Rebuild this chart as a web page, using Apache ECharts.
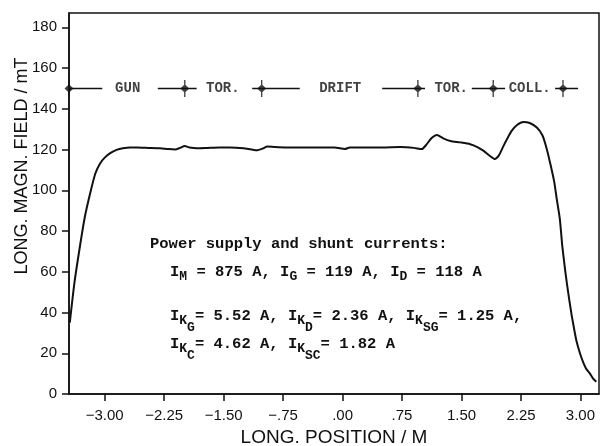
<!DOCTYPE html>
<html>
<head>
<meta charset="utf-8">
<script src="https://cdn.jsdelivr.net/npm/echarts@6/dist/echarts.min.js"></script>
<style>
  html, body { margin: 0; padding: 0; background: #fff; }
  #chart { width: 600px; height: 446px; }
</style>
</head>
<body>
<div id="chart"></div>
<script>
// field profile along the beam axis
const posM = [-3.44, -3.38, -3.31, -3.25, -3.18, -3.12, -3.06, -3.00, -2.93, -2.85,
  -2.77, -2.68, -2.59, -2.45, -2.30, -2.20, -2.11, -2.05, -1.99, -1.93,
  -1.84, -1.70, -1.55, -1.42, -1.25, -1.08, -1.00, -0.95, -0.85, -0.70,
  -0.50, -0.30, -0.10, 0.03, 0.09, 0.30, 0.50, 0.73, 0.90, 1.00,
  1.06, 1.12, 1.19, 1.27, 1.36, 1.48, 1.61, 1.70, 1.78, 1.86,
  1.92, 1.97, 2.03, 2.08, 2.13, 2.20, 2.28, 2.36, 2.45, 2.52,
  2.57, 2.62, 2.67, 2.70, 2.74, 2.77, 2.80, 2.83, 2.86, 2.89,
  2.92, 2.95, 2.99, 3.03, 3.07, 3.12, 3.16, 3.20];
const fieldMT = [35, 55, 73, 87, 99, 108, 113, 116, 118.2, 119.8,
  120.6, 121, 121, 120.8, 120.6, 120.2, 120, 120.8, 121.7, 121,
  120.6, 120.8, 121, 121, 120.6, 119.6, 120.6, 121.5, 121.2, 121,
  121, 121, 121, 120.2, 121, 121, 121, 121.2, 120.8, 120.2,
  122.5, 125.5, 127.1, 125.5, 124.2, 123.5, 122.6, 121.2, 119.3, 116.8,
  115.3, 117, 121.8, 125.5, 129, 132, 133.5, 133, 130.8, 127,
  121, 113, 104, 96, 86, 73, 63, 54, 46, 38.5,
  32, 26, 20.5, 16, 12.5, 10, 7.5, 6];

const xTickValues = [-3, -2.25, -1.5, -0.75, 0, 0.75, 1.5, 2.25, 3];
const xTickLabels = ['\u22123.00', '\u22122.25', '\u22121.50', '\u2212.75', '.00', '.75', '1.50', '2.25', '3.00'];
const yTickValues = [0, 20, 40, 60, 80, 100, 120, 140, 160, 180];

// section bar drawn at 150 mT
const sectionLevel = 150;
const sectionMarks = [-3.45, -1.99, -1.02, 0.95, 1.90, 2.78];
const sectionLineFrom = [-3.45, -2.33, -1.14, 0.50, 1.63, 2.68];
const sectionLineTo = [-3.03, -1.84, -0.54, 1.04, 2.05, 2.97];
const sectionNames = ['GUN', 'TOR.', 'DRIFT', 'TOR.', 'COLL.'];
const sectionNamePos = [-2.71, -1.51, -0.03, 1.37, 2.36];

const noteTitle = 'Power supply and shunt currents:';
// [text, level] level 0 = normal, 1 = subscript, 2 = second subscript
const noteLines = [
  [['I', 0], ['M', 1], [' = 875 A, I', 0], ['G', 1], [' = 119 A, I', 0], ['D', 1], [' = 118 A', 0]],
  [['I', 0], ['K', 1], ['G', 2], ['= 5.52 A, I', 0], ['K', 1], ['D', 2], ['= 2.36 A, I', 0], ['K', 1], ['SG', 2], ['= 1.25 A,', 0]],
  [['I', 0], ['K', 1], ['C', 2], ['= 4.62 A, I', 0], ['K', 1], ['SC', 2], ['= 1.82 A', 0]]
];

const MONO = '"Liberation Mono", "DejaVu Sans Mono", monospace';
const SANS = '"Liberation Sans", Arial, sans-serif';

const curve = posM.map((x, i) => [x, fieldMT[i]]);
const barData = [];
sectionLineFrom.forEach((x, i) => {
  barData.push([x, sectionLevel], [sectionLineTo[i], sectionLevel], '-');
});

// text block with sub/subsub scripts, monospace so widths are easy
const fontMain = 15.5, fontSub = 13;
const levelDy = [0, 5, 12];
const noteGraphic = [{
  type: 'text', x: 150, y: 244,
  style: { text: noteTitle, font: 'bold ' + fontMain + 'px ' + MONO, fill: '#111', verticalAlign: 'middle' }
}];
const lineY = [272, 316, 344];
noteLines.forEach((parts, li) => {
  let x = 170;
  parts.forEach(([t, lv]) => {
    const fs = lv === 0 ? fontMain : fontSub;
    noteGraphic.push({
      type: 'text', x: x, y: lineY[li] + levelDy[lv],
      style: { text: t, font: 'bold ' + fs + 'px ' + MONO, fill: '#111', verticalAlign: 'middle' }
    });
    x += t.length * fs * 0.6;
  });
});

const chart = echarts.init(document.getElementById('chart'));
chart.setOption({
  animation: false,
  grid: {
    left: 69, right: 1, top: 13, bottom: 52,
    outerBoundsMode: 'none',
    show: true, borderColor: '#111', borderWidth: 1.5
  },
  xAxis: {
    type: 'value',
    min: -3.45, max: 3.234,
    name: 'LONG. POSITION / M',
    nameLocation: 'middle',
    nameGap: 31,
    nameTextStyle: { fontFamily: SANS, fontSize: 19, color: '#111' },
    axisLine: { onZero: false, lineStyle: { color: '#111', width: 1.5 } },
    axisTick: { customValues: xTickValues, length: 7, lineStyle: { color: '#111', width: 1.5 } },
    axisLabel: {
      customValues: xTickValues,
      margin: 14,
      fontFamily: SANS, fontSize: 15, color: '#111',
      formatter: v => {
        const i = xTickValues.findIndex(t => Math.abs(t - v) < 1e-6);
        return i >= 0 ? xTickLabels[i] : '';
      }
    },
    splitLine: { show: false }
  },
  yAxis: {
    type: 'value',
    min: 0, max: 187,
    axisLine: { onZero: false, lineStyle: { color: '#111', width: 1.5 } },
    axisTick: { customValues: yTickValues, length: 7, lineStyle: { color: '#111', width: 1.5 } },
    axisLabel: { customValues: yTickValues, margin: 12, fontFamily: SANS, fontSize: 15, color: '#111' },
    splitLine: { show: false }
  },
  graphic: [{
    type: 'text', x: 22, y: 166, rotation: Math.PI / 2,
    style: { text: 'LONG. MAGN. FIELD / mT', font: '18px ' + SANS, fill: '#111', align: 'center', verticalAlign: 'middle' }
  }].concat(noteGraphic),
  series: [
    {
      type: 'line',
      data: curve,
      smooth: 0.2,
      symbol: 'none',
      lineStyle: { color: '#111', width: 2 }
    },
    {
      type: 'line',
      data: barData,
      connectNulls: false,
      symbol: 'none',
      lineStyle: { color: '#111', width: 1.5 }
    },
    {
      type: 'scatter',
      data: sectionMarks.map(x => [x, sectionLevel]),
      symbol: 'path://M3.4,0H4.6V16H3.4Z M4,4L8,8L4,12L0,8Z',
      symbolSize: [9, 17],
      itemStyle: { color: '#111' }
    },
    {
      type: 'scatter',
      data: sectionNamePos.map((x, i) => ({ value: [x, sectionLevel], name: sectionNames[i] })),
      symbolSize: 1,
      itemStyle: { color: 'transparent' },
      label: {
        show: true, position: 'inside',
        formatter: p => p.name,
        fontFamily: MONO, fontWeight: 'bold', fontSize: 14, color: '#111'
      }
    }
  ]
});
</script>
</body>
</html>
